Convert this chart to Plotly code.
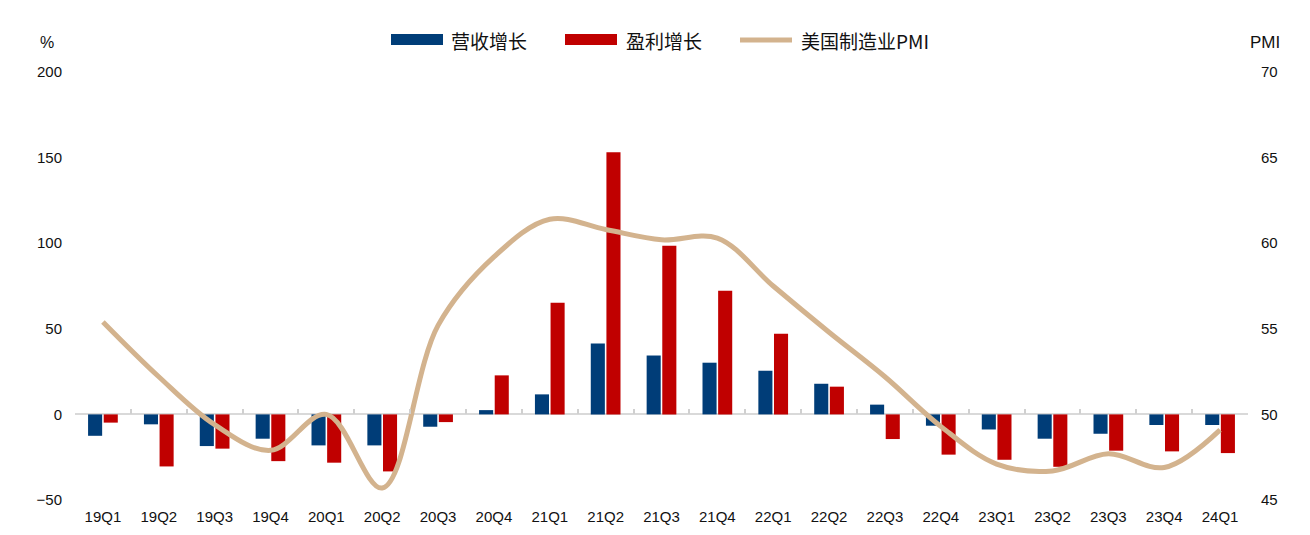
import plotly.graph_objects as go

categories = ["19Q1", "19Q2", "19Q3", "19Q4", "20Q1", "20Q2", "20Q3", "20Q4",
              "21Q1", "21Q2", "21Q3", "21Q4", "22Q1", "22Q2", "22Q3", "22Q4",
              "23Q1", "23Q2", "23Q3", "23Q4", "24Q1"]
revenue_growth = [-12.5, -5.8, -18.5, -14.2, -18.1, -18.1, -7.2, 2.5,
                  11.7, 41.4, 34.4, 30.2, 25.5, 17.9, 5.7, -6.6,
                  -8.8, -14.2, -11.3, -6.2, -6.2]
profit_growth = [-4.8, -30.4, -20.0, -27.3, -28.2, -33.3, -4.5, 22.8,
                 65.2, 153.1, 98.5, 72.2, 47.1, 16.2, -14.4, -23.5,
                 -26.5, -30.6, -21.2, -21.6, -22.6]
us_pmi = [55.4, 52.2, 49.4, 47.9, 50.0, 45.7, 55.2, 59.2,
          61.4, 60.8, 60.2, 60.3, 57.5, 54.8, 52.2, 49.3,
          47.1, 46.7, 47.7, 46.9, 49.1]
names = ["营收增长", "盈利增长", "美国制造业PMI"]

NAVY = "#003D78"
RED = "#C00000"
TAN = "#D3B38E"
CJK = "Noto Sans CJK SC, sans-serif"
NUM = "Liberation Sans, Arial, sans-serif"
NARROW = "Liberation Sans Narrow, Liberation Sans, Arial, sans-serif"

W, H = 1310, 535
L, R, T, B = 75, 62, 72, 35
Y_MIN, Y_MAX = -50, 200


def px(x):
    return (x - L) / (W - L - R)


def py(y):
    return (H - B - y) / (H - T - B)


fig = go.Figure()
fig.add_trace(go.Bar(x=categories, y=revenue_growth, name=names[0],
                     marker=dict(color=NAVY, line=dict(width=0)), showlegend=False))
fig.add_trace(go.Bar(x=categories, y=profit_growth, name=names[1],
                     marker=dict(color=RED, line=dict(width=0)), showlegend=False))
fig.add_trace(go.Scatter(x=categories, y=us_pmi, name=names[2], xaxis="x2", yaxis="y2",
                         mode="lines", line=dict(color=TAN, width=5, shape="spline", smoothing=1.0),
                         showlegend=False))

shapes = [
    dict(type="rect", xref="paper", yref="paper", x0=px(391), x1=px(443), y0=py(45), y1=py(34),
         fillcolor=NAVY, line=dict(width=0)),
    dict(type="rect", xref="paper", yref="paper", x0=px(565), x1=px(617), y0=py(45), y1=py(34),
         fillcolor=RED, line=dict(width=0)),
    dict(type="line", xref="paper", yref="paper", x0=px(740), x1=px(792), y0=py(40), y1=py(40),
         line=dict(color=TAN, width=5)),
]
annotations = [
    dict(text=names[0], x=px(449), y=py(40), xanchor="left", yanchor="middle",
         font=dict(family=CJK, size=19, color="#111111")),
    dict(text=names[1], x=px(624), y=py(40), xanchor="left", yanchor="middle",
         font=dict(family=CJK, size=19, color="#111111")),
    dict(text=names[2], x=px(799), y=py(40), xanchor="left", yanchor="middle",
         font=dict(family=CJK, size=19, color="#111111")),
    dict(text="%", x=px(47), y=py(43), xanchor="center", yanchor="middle",
         font=dict(family=NUM, size=16, color="#111111")),
    dict(text="PMI", x=px(1265), y=py(43), xanchor="center", yanchor="middle",
         font=dict(family=NUM, size=17, color="#111111")),
]
for a in annotations:
    a.update(xref="paper", yref="paper", showarrow=False)

zero_pos = (0 - Y_MIN) / (Y_MAX - Y_MIN)

fig.update_layout(
    width=W, height=H,
    margin=dict(l=L, r=R, t=T, b=B),
    paper_bgcolor="white", plot_bgcolor="white",
    barmode="group", bargap=0.44, bargroupgap=0.1,
    showlegend=False,
    shapes=shapes, annotations=annotations,
    xaxis=dict(type="category", range=[-0.5, len(categories) - 0.5],
               showgrid=False, showline=False, zeroline=False, ticks="",
               tickfont=dict(family=NARROW, size=15, color="#111111"),
               ticklabelstandoff=6, automargin=False),
    xaxis2=dict(type="category", matches="x", overlaying="x", anchor="free",
                position=zero_pos, side="bottom", showgrid=False, showline=False,
                zeroline=False, ticks="inside", tickson="boundaries", ticklen=5,
                tickwidth=1.5, tickcolor="#D0D0D0", showticklabels=False,
                automargin=False),
    yaxis=dict(range=[Y_MIN, Y_MAX], dtick=50, showgrid=False, showline=False,
               zeroline=True, zerolinecolor="#D9D9D9", zerolinewidth=2,
               ticks="", tickfont=dict(family=NUM, size=15, color="#111111"),
               ticklabelstandoff=12, automargin=False),
    yaxis2=dict(range=[45, 70], dtick=5, overlaying="y", side="right",
                showgrid=False, showline=False, zeroline=False, ticks="",
                tickfont=dict(family=NUM, size=15, color="#111111"),
                ticklabelstandoff=12, automargin=False),
)

fig.write_html("out.html")
